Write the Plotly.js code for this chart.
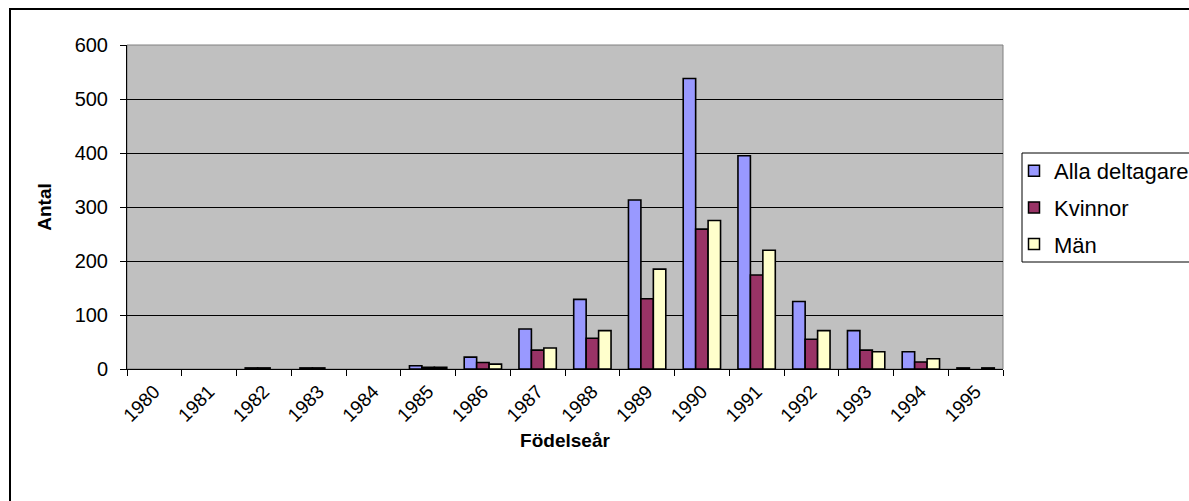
<!DOCTYPE html>
<html>
<head>
<meta charset="utf-8">
<script src="https://cdn.plot.ly/plotly-3.0.1.min.js"></script>
<style>html,body{margin:0;padding:0;background:#fff;}#chart{width:1189px;height:501px;}</style>
</head>
<body>
<div id="chart"></div>
<script>
const years = ['1980','1981','1982','1983','1984','1985','1986','1987','1988','1989','1990','1991','1992','1993','1994','1995'];
const alla    = [0, 0, 2, 2, 0, 6, 22, 74, 129, 313, 538, 395, 125, 71, 32, 2];
const kvinnor = [0, 0, 2, 2, 0, 3, 12, 35, 57, 130, 259, 174, 55, 35, 13, 0];
const man     = [0, 0, 0, 0, 0, 3, 9, 39, 71, 185, 275, 220, 71, 32, 19, 2];

const seriesNames = ['Alla deltagare', 'Kvinnor', 'Män'];
const seriesColors = ['#9999FF', '#993366', '#FFFFCC'];
const seriesValues = [alla, kvinnor, man];

const FONT = 'Arial, "Liberation Sans", sans-serif';

// Bars (zero values draw nothing, as in the original)
const barTraces = seriesValues.map((vals, i) => ({
  type: 'bar',
  name: seriesNames[i],
  x: years,
  y: vals.map(v => v === 0 ? null : v),
  showlegend: false,
  legendgroup: 'g' + i,
  marker: {color: seriesColors[i], line: {color: '#000000', width: 1.6}},
  hoverinfo: 'x+y+name'
}));

// Legend entries with square keys
const legendTraces = seriesNames.map((name, i) => ({
  type: 'scatter',
  mode: 'markers',
  name: name,
  x: [years[0]],
  y: [null],
  legendgroup: 'g' + i,
  marker: {symbol: 'square', size: 11, color: seriesColors[i], line: {color: '#000000', width: 1.5}},
  hoverinfo: 'skip'
}));

const L = 127, R = 1003, T = 45, B = 369;
const W = R - L, H = B - T;
function px(x){ return (x - L) / W; }
function py(y){ return (B - y) / H; }

const layout = {
  width: 1189, height: 501,
  margin: {l: L, r: 1189 - R, t: T, b: 501 - B, pad: 0, autoexpand: false},
  paper_bgcolor: '#ffffff',
  plot_bgcolor: '#C0C0C0',
  font: {family: FONT, color: '#000000', size: 20},
  barmode: 'group',
  bargap: 0.318,
  bargroupgap: 0,
  showlegend: true,
  legend: {
    x: px(1014), xanchor: 'left',
    y: py(150), yanchor: 'top',
    bgcolor: 'rgba(0,0,0,0)',
    borderwidth: 0,
    font: {family: FONT, size: 22, color: '#000000'},
    traceorder: 'grouped',
    tracegroupgap: 5,
    itemwidth: 30
  },
  xaxis: {
    type: 'category',
    categoryorder: 'array', categoryarray: years,
    range: [-0.5, years.length - 0.5],
    autorange: false,
    tickson: 'boundaries',
    ticks: 'outside', ticklen: 6, tickcolor: '#000000', tickwidth: 1,
    tickangle: -45,
    ticklabelstandoff: 3,
    tickfont: {family: FONT, size: 19, color: '#000000'},
    showline: true, linecolor: '#000000', linewidth: 1,
    showgrid: false, zeroline: false,
    title: {text: '<b>Födelseår</b>', font: {family: FONT, size: 19, color: '#000000'}, standoff: 8},
    fixedrange: true
  },
  yaxis: {
    range: [0, 600], autorange: false, dtick: 100, tick0: 0,
    ticks: 'outside', ticklen: 6, tickcolor: '#000000', tickwidth: 1,
    ticklabelstandoff: 8,
    tickfont: {family: FONT, size: 20, color: '#000000'},
    showline: true, linecolor: '#000000', linewidth: 1,
    showgrid: true, gridcolor: '#000000', gridwidth: 1,
    zeroline: false,
    title: {text: '<b>Antal</b>', font: {family: FONT, size: 19, color: '#000000'}, standoff: 17},
    fixedrange: true
  },
  shapes: [
    {type: 'rect', xref: 'paper', yref: 'paper', x0: 0, x1: 1, y0: 0, y1: 1,
     line: {color: '#808080', width: 1}, layer: 'below'},
    {type: 'rect', xref: 'paper', yref: 'paper',
     x0: px(1022), x1: px(1200), y0: py(262), y1: py(153),
     line: {color: '#000000', width: 1}, fillcolor: '#ffffff', layer: 'below'},
    {type: 'rect', xref: 'paper', yref: 'paper',
     x0: px(10), x1: px(1200), y0: py(515), y1: py(9),
     line: {color: '#000000', width: 2}, fillcolor: 'rgba(0,0,0,0)'}
  ]
};

Plotly.newPlot('chart', barTraces.concat(legendTraces), layout, {displayModeBar: false, staticPlot: true});
</script>
</body>
</html>
